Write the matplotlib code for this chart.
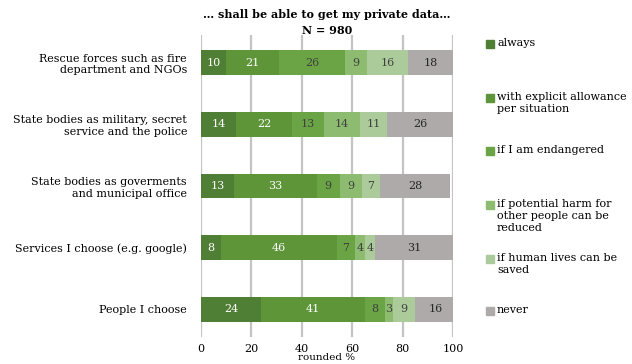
import matplotlib
matplotlib.use("Agg")
import matplotlib.pyplot as plt
from matplotlib.patches import Rectangle

plt.rcParams['font.family'] = ['DejaVu Serif']

categories = ["Rescue forces such as fire\ndepartment and NGOs",
              "State bodies as military, secret\nservice and the police",
              "State bodies as goverments\nand municipal office",
              "Services I choose (e.g. google)",
              "People I choose"]
series_names = ["always", "with explicit allowance\nper situation", "if I am endangered",
                "if potential harm for\nother people can be\nreduced",
                "if human lives can be\nsaved", "never"]
always = [10, 14, 13, 8, 24]
explicit = [21, 22, 33, 46, 41]
endangered = [26, 13, 9, 7, 8]
harm = [9, 14, 9, 4, 3]
lives = [16, 11, 7, 4, 9]
never = [18, 26, 28, 31, 16]
series = [always, explicit, endangered, harm, lives, never]
colors = ["#4f7f35", "#5e9538", "#6aa444", "#8dbb6f", "#abcc9a", "#aeaaaa"]
text_colors = ["white", "white", "#404040", "#404040", "#404040", "#262626"]
xticks = [0, 20, 40, 60, 80, 100]

fig = plt.figure(figsize=(6.32, 3.64), dpi=100)
ax = fig.add_axes([201/632, 1-337/364, 252/632, 302/364])

ys = list(range(len(categories)))
left = [0]*len(categories)
for vals, c, tc in zip(series, colors, text_colors):
    ax.barh(ys, vals, left=left, height=0.4, color=c, zorder=3)
    for y, v, l in zip(ys, vals, left):
        ax.text(l + v/2, y, str(v), ha='center', va='center', color=tc, fontsize=8, zorder=4)
    left = [a + b for a, b in zip(left, vals)]

ax.set_xlim(0, 100)
ax.set_ylim(4.45, -0.45)
ax.set_xticks(xticks)
ax.set_xticklabels([str(t) for t in xticks], fontsize=8)
ax.set_yticks(ys)
ax.set_yticklabels(categories, fontsize=8)
ax.tick_params(length=0, pad=12)
ax.tick_params(axis='y', pad=10)
ax.tick_params(axis='x', pad=5)
for s in ax.spines.values():
    s.set_visible(False)
ax.grid(axis='x', color='#c4c4c4', linewidth=1.6, zorder=0)
ax.set_axisbelow(True)
ax.set_xlabel("rounded %", fontsize=7.5, labelpad=-1)

fig.text(327/632, 1-14/364, "… shall be able to get my private data…", ha='center', va='center',
         fontsize=8, fontweight='bold')
fig.text(327/632, 1-30/364, "N = 980", ha='center', va='center', fontsize=8, fontweight='bold')

tops = [38, 92, 145, 199, 253, 305]
for name, c, t in zip(series_names, colors, tops):
    fig.patches.append(Rectangle((486/632, 1-(t+10)/364), 8/632, 8/364,
                                 transform=fig.transFigure, color=c))
    fig.text(497/632, 1-t/364, name, ha='left', va='top', fontsize=8, linespacing=1.25)

fig.savefig("out.png", dpi=100)
